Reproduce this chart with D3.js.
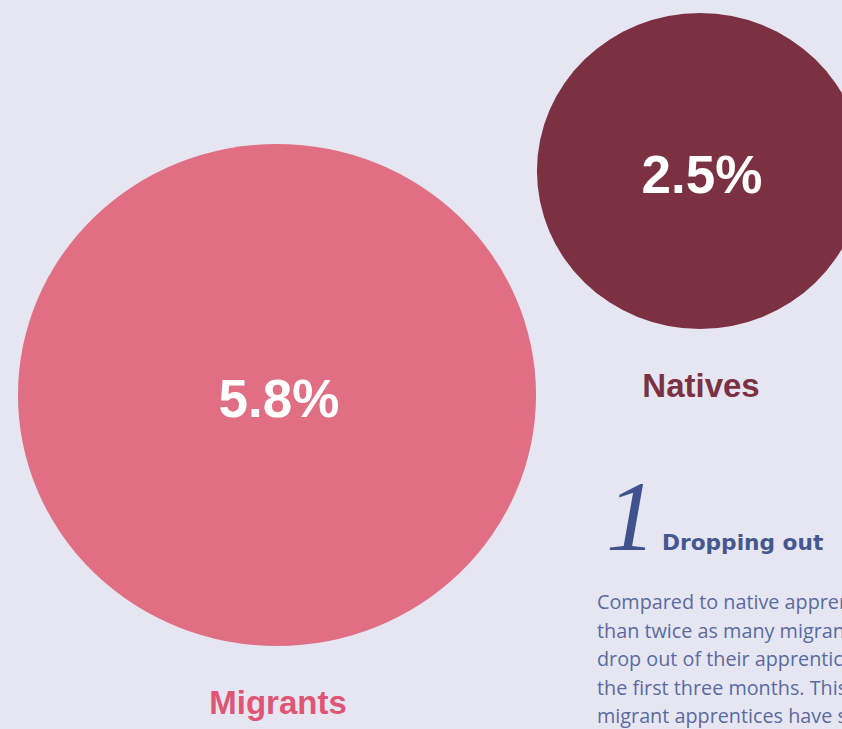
<!DOCTYPE html>
<html lang="en">
  <head>
    <meta charset="UTF-8" />
    <title>Dropping out</title>
    <style>
      html, body { margin: 0; padding: 0; background: #e6e6f2; overflow: hidden; }
    </style>
  </head>
  <body>
    <svg id="svg" width="842" height="729"></svg>

    <script src="https://d3js.org/d3.v7.min.js"></script>
    <script>
      // values
      const categories = ["Migrants", "Natives"];
      const dropoutRates = [5.8, 2.5];
      const valueLabels = ["5.8%", "2.5%"];

      const bodyLines = [
        "Compared to native apprentices, more",
        "than twice as many migrant apprentices",
        "drop out of their apprenticeship in",
        "the first three months. This is because",
        "migrant apprentices have significantly"
      ];

      const data = categories.map((c, i) => ({
        name: c,
        rate: dropoutRates[i],
        label: valueLabels[i]
      }));

      const xScale = d3.scalePoint().domain(categories).range([277, 700]);
      const yScale = d3.scaleOrdinal().domain(categories).range([395, 171]);
      const rScale = d3.scalePow().exponent(0.55).domain([0, 5.8]).range([0, 251]);
      const stretch = 1.032;

      const fillScale = d3.scaleOrdinal().domain(categories).range(["#e06f84", "#7b3142"]);
      const labelColor = d3.scaleOrdinal().domain(categories).range(["#e05474", "#7b3142"]);

      const svg = d3.select("#svg");

      svg.append("rect").attr("width", 842).attr("height", 729).attr("fill", "#e6e6f2");

      const g = svg.selectAll("g.bubble")
        .data(data)
        .enter()
        .append("g")
        .attr("class", "bubble");

      g.append("ellipse")
        .attr("cx", (d) => xScale(d.name))
        .attr("cy", (d) => yScale(d.name))
        .attr("rx", (d) => rScale(d.rate) * stretch)
        .attr("ry", (d) => rScale(d.rate))
        .attr("fill", (d) => fillScale(d.name));

      g.append("text")
        .attr("x", (d) => xScale(d.name) + 2)
        .attr("y", (d) => yScale(d.name) + 22)
        .attr("text-anchor", "middle")
        .attr("font-family", "Liberation Sans, Arial, sans-serif")
        .attr("font-weight", "bold")
        .attr("font-size", 53)
        .attr("fill", "#ffffff")
        .text((d) => d.label);

      g.append("text")
        .attr("x", (d) => xScale(d.name) + 1)
        .attr("y", (d) => yScale(d.name) + rScale(d.rate) + 68)
        .attr("text-anchor", "middle")
        .attr("font-family", "Liberation Sans, Arial, sans-serif")
        .attr("font-weight", "bold")
        .attr("font-size", 33)
        .attr("fill", (d) => labelColor(d.name))
        .text((d) => d.name);

      // side note
      svg.append("text")
        .attr("x", 606)
        .attr("y", 550)
        .attr("font-family", "Liberation Serif, serif")
        .attr("font-style", "italic")
        .attr("font-size", 100)
        .attr("fill", "#3f528b")
        .text("1");

      svg.append("text")
        .attr("x", 662)
        .attr("y", 550)
        .attr("font-family", "DejaVu Sans, sans-serif")
        .attr("font-weight", "bold")
        .attr("font-size", 21.7)
        .attr("fill", "#46578f")
        .text("Dropping out");

      svg.append("g")
        .selectAll("text")
        .data(bodyLines)
        .enter()
        .append("text")
        .attr("x", 597)
        .attr("y", (d, i) => 609 + i * 28.5)
        .attr("font-family", "Open Sans, sans-serif")
        .attr("font-size", 19.8)
        .attr("fill", "#5a6aa0")
        .text((d) => d);
    </script>
  </body>
</html>
